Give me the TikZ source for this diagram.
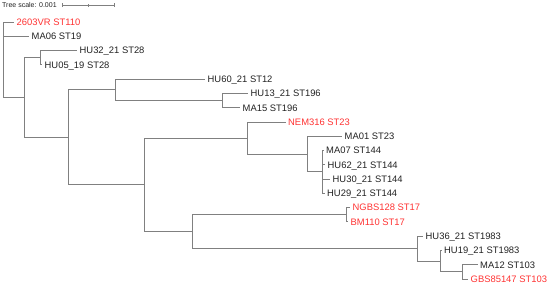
\documentclass[tikz,border=0pt]{standalone}
\usepackage{fontspec}
\setmainfont{Liberation Sans}
\definecolor{branch}{RGB}{128,128,128}
\definecolor{lbl}{RGB}{34,34,34}
\definecolor{hl}{RGB}{255,51,51}
\tikzset{
  br/.style={draw=branch, line width=0.9pt},
  leaf/.style={anchor=west, inner sep=0pt, xshift=2.5pt, text height=6.7pt, text depth=0pt, font=\fontsize{9.4}{11}\selectfont, text=lbl},
  red/.style={text=hl},
  sclbl/.style={anchor=west, inner sep=0pt, text height=5pt, text depth=0pt, font=\fontsize{7}{8}\selectfont, text=lbl}
}
\begin{document}
\begin{tikzpicture}[x=1pt,y=-1pt]
\useasboundingbox (0,0) rectangle (550,285);
% scale
\node[sclbl] (sc) at (2,5) {Tree scale: 0.001};
\coordinate (s0) at (62,5); \coordinate (s1) at (88,5); \coordinate (s2) at (114,5);
\draw[br, line width=0.7pt] (s0) -- (s2);
\draw[br, line width=0.7pt] ([yshift=-2pt]s0) -- ([yshift=2pt]s0);
\draw[br, line width=0.7pt] ([yshift=-1.5pt]s1) -- ([yshift=1.5pt]s1);
\draw[br, line width=0.7pt] ([yshift=-2pt]s2) -- ([yshift=2pt]s2);
% internal nodes
\coordinate (R) at (3.5,59.8);
\coordinate (A) at (24,97.5);
\coordinate (P) at (40,57.7);
\coordinate (B) at (68,137.4);
\coordinate (C) at (115,89.8);
\coordinate (E) at (222,100.5);
\coordinate (D) at (144,184.9);
\coordinate (F) at (247,138.0);
\coordinate (H) at (307,154.1);
\coordinate (I) at (322.7,171.9);
\coordinate (G) at (192,231.7);
\coordinate (J) at (346,214.8);
\coordinate (K) at (417,248.7);
\coordinate (L) at (440,261.2);
\coordinate (M) at (462.7,271.9);
% leaf ends
\coordinate (l0) at (14,22.0);
\coordinate (l1) at (29,36.3);
\coordinate (l2) at (77,50.6);
\coordinate (l3) at (42,64.8);
\coordinate (l4) at (205,79.1);
\coordinate (l5) at (248,93.4);
\coordinate (l6) at (240,107.7);
\coordinate (l7) at (285.5,122.0);
\coordinate (l8) at (342,136.2);
\coordinate (l9) at (323.5,150.5);
\coordinate (l10) at (325,164.8);
\coordinate (l11) at (330,179.1);
\coordinate (l12) at (324.5,193.4);
\coordinate (l13) at (350,207.6);
\coordinate (l14) at (348,221.9);
\coordinate (l15) at (423,236.2);
\coordinate (l16) at (441.5,250.5);
\coordinate (l17) at (477.5,264.8);
\coordinate (l18) at (468,279.0);
% labels
\node[leaf, red] (t0) at (l0) {2603VR ST110};
\node[leaf] (t1) at (l1) {MA06 ST19};
\node[leaf] (t2) at (l2) {HU32\_21 ST28};
\node[leaf] (t3) at (l3) {HU05\_19 ST28};
\node[leaf] (t4) at (l4) {HU60\_21 ST12};
\node[leaf] (t5) at (l5) {HU13\_21 ST196};
\node[leaf] (t6) at (l6) {MA15 ST196};
\node[leaf, red] (t7) at (l7) {NEM316 ST23};
\node[leaf] (t8) at (l8) {MA01 ST23};
\node[leaf] (t9) at (l9) {MA07 ST144};
\node[leaf] (t10) at (l10) {HU62\_21 ST144};
\node[leaf] (t11) at (l11) {HU30\_21 ST144};
\node[leaf] (t12) at (l12) {HU29\_21 ST144};
\node[leaf, red] (t13) at (l13) {NGBS128 ST17};
\node[leaf, red] (t14) at (l14) {BM110 ST17};
\node[leaf] (t15) at (l15) {HU36\_21 ST1983};
\node[leaf] (t16) at (l16) {HU19\_21 ST1983};
\node[leaf] (t17) at (l17) {MA12 ST103};
\node[leaf, red] (t18) at (l18) {GBS85147 ST103};
% branches
\draw[br] (R) |- (l0);
\draw[br] (R) |- (l1);
\draw[br] (R) |- (A);
\draw[br] (A) |- (P);
\draw[br] (A) |- (B);
\draw[br] (P) |- (l2);
\draw[br] (P) |- (l3);
\draw[br] (B) |- (C);
\draw[br] (B) |- (D);
\draw[br] (C) |- (l4);
\draw[br] (C) |- (E);
\draw[br] (E) |- (l5);
\draw[br] (E) |- (l6);
\draw[br] (D) |- (F);
\draw[br] (D) |- (G);
\draw[br] (F) |- (l7);
\draw[br] (F) |- (H);
\draw[br] (H) |- (l8);
\draw[br] (H) |- (I);
\draw[br] (I) |- (l9);
\draw[br] (I) |- (l10);
\draw[br] (I) |- (l11);
\draw[br] (I) |- (l12);
\draw[br] (G) |- (J);
\draw[br] (G) |- (K);
\draw[br] (J) |- (l13);
\draw[br] (J) |- (l14);
\draw[br] (K) |- (l15);
\draw[br] (K) |- (L);
\draw[br] (L) |- (l16);
\draw[br] (L) |- (M);
\draw[br] (M) |- (l17);
\draw[br] (M) |- (l18);
\end{tikzpicture}
\end{document}
